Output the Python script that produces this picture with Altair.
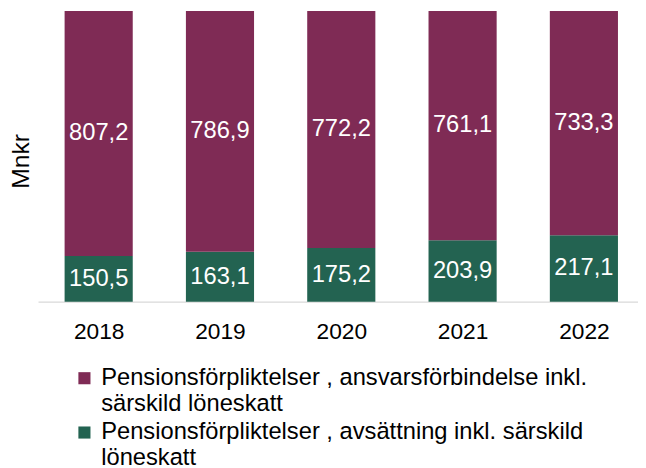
import altair as alt
import pandas as pd

years = [2018, 2019, 2020, 2021, 2022]
series_top = "Pensionsförpliktelser , ansvarsförbindelse inkl. särskild löneskatt"
series_bottom = "Pensionsförpliktelser , avsättning inkl. särskild löneskatt"
values_top = [807.2, 786.9, 772.2, 761.1, 733.3]
values_bottom = [150.5, 163.1, 175.2, 203.9, 217.1]
legend_lines_top = ["Pensionsförpliktelser , ansvarsförbindelse inkl.", "särskild löneskatt"]
legend_lines_bottom = ["Pensionsförpliktelser , avsättning inkl. särskild", "löneskatt"]

PURPLE = "#7F2B55"
GREEN = "#236351"
FONT = "Liberation Sans"

rows = []
for i, y in enumerate(years):
    rows.append({"year": y, "series": series_bottom, "value": values_bottom[i], "ord": 0})
    rows.append({"year": y, "series": series_top, "value": values_top[i], "ord": 1})
df = pd.DataFrame(rows)

def js_list(lines):
    return "[" + ",".join('"' + l + '"' for l in lines) + "]"

label_expr = (
    f'datum.label == "{series_top}" ? {js_list(legend_lines_top)} : {js_list(legend_lines_bottom)}'
)

base = alt.Chart(df).transform_stack(
    stack="value", groupby=["year"], as_=["y0", "y1"], offset="normalize",
    sort=[alt.SortField("ord", order="ascending")],
).transform_calculate(
    mid="(datum.y0 + datum.y1) / 2",
    txt="replace(format(datum.value, '.1f'), '.', ',')",
)

x_scale = alt.Scale(domain=[2017.5, 2022.446], nice=False, zero=False, padding=0)
x_enc = alt.X(
    "year:Q", title=None, scale=x_scale,
    axis=alt.Axis(
        values=years, format="d", grid=False,
        labelAngle=0, labelFont=FONT, labelFontSize=23, labelColor="#000000",
        labelPadding=19, ticks=False, domainColor="#D9D9D9", domainWidth=1.2,
        labelFlush=False,
    ),
)
y_scale = alt.Scale(domain=[0, 1], padding=0)

bars = base.mark_bar(size=69).encode(
    x=x_enc,
    y=alt.Y("y0:Q", scale=y_scale, title="Mnkr",
            axis=alt.Axis(labels=False, ticks=False, domain=False, grid=False,
                          titleFont=FONT, titleFontSize=25, titleFontWeight="normal",
                          titleColor="#000000", titleX=-9.5, titleY=152,
                          titleBaseline="alphabetic", titleAngle=270)),
    y2="y1:Q",
    color=alt.Color(
        "series:N",
        scale=alt.Scale(domain=[series_top, series_bottom], range=[PURPLE, GREEN]),
        legend=alt.Legend(
            title=None, orient="none", legendX=35, legendY=360,
            symbolType="square", symbolSize=150, symbolStrokeWidth=0,
            labelFont=FONT, labelFontSize=24, labelColor="#000000",
            labelExpr=label_expr, labelLimit=0, labelOffset=5,
            rowPadding=5, padding=0,
        ),
    ),
)

texts = base.mark_text(font=FONT, fontSize=24, color="white", baseline="middle").encode(
    x=alt.X("year:Q", scale=x_scale),
    y=alt.Y("mid:Q", scale=y_scale),
    text="txt:N",
)

chart = alt.layer(bars, texts).properties(
    width=607.6, height=294.5,
    autosize=alt.AutoSizeParams(type="none"),
    padding={"left": 30.4, "top": 0, "right": 0, "bottom": 165},
).configure(
    style={"guide-label": {"lineHeight": 25.7}}
).configure_view(strokeWidth=0)

chart.save("out.html", embed_options={"renderer": "svg", "actions": False})
